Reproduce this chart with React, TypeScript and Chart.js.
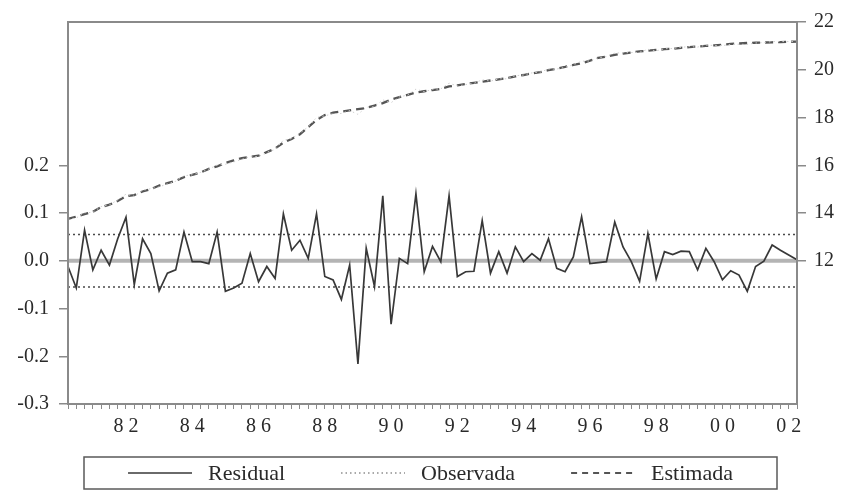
import React, { useEffect, useRef } from 'react';
import { Chart, registerables } from 'chart.js';

Chart.register(...registerables);

// ---------- data ----------
const START_YEAR = 1980;
const START_QUARTER = 4;
const N_PERIODS = 89; // 1980Q4 .. 2002Q4

const periods: string[] = [];
{
  let y = START_YEAR;
  let q = START_QUARTER;
  while (periods.length < N_PERIODS) {
    periods.push(`${y}Q${q}`);
    q += 1;
    if (q > 4) { q = 1; y += 1; }
  }
}

const residual = [
  -0.012, -0.057, 0.064, -0.019, 0.022, -0.009, 0.046, 0.091, -0.05, 0.046,
  0.015, -0.063, -0.026, -0.019, 0.06, -0.002, -0.002, -0.006, 0.06, -0.064,
  -0.057, -0.047, 0.015, -0.044, -0.012, -0.037, 0.098, 0.022, 0.043, 0.005,
  0.098, -0.033, -0.04, -0.081, -0.009, -0.216, 0.026, -0.054, 0.136, -0.133,
  0.005, -0.006, 0.14, -0.023, 0.03, -0.002, 0.136, -0.033, -0.023, -0.022,
  0.084, -0.026, 0.019, -0.026, 0.029, -0.002, 0.015, 0.001, 0.046, -0.016,
  -0.023, 0.008, 0.092, -0.006, -0.004, -0.002, 0.081, 0.029, -0.002, -0.043,
  0.057, -0.038, 0.019, 0.013, 0.02, 0.019, -0.019, 0.026, -0.002, -0.04,
  -0.021, -0.03, -0.064, -0.012, -0.001, 0.033, 0.022, 0.012, 0.002,
];

const observed = [
  13.74, 13.79, 14.01, 14.03, 14.27, 14.34, 14.55, 14.79, 14.70, 14.95,
  15.02, 15.09, 15.22, 15.33, 15.56, 15.60, 15.70, 15.84, 16.01, 16.04,
  16.14, 16.25, 16.37, 16.36, 16.54, 16.66, 17.05, 17.12, 17.34, 17.61,
  18.00, 18.07, 18.16, 18.17, 18.29, 18.13, 18.43, 18.45, 18.74, 18.62,
  18.86, 18.94, 19.19, 19.08, 19.18, 19.20, 19.44, 19.32, 19.38, 19.43,
  19.58, 19.52, 19.62, 19.62, 19.75, 19.78, 19.87, 19.90, 20.03, 20.03,
  20.10, 20.21, 20.36, 20.37, 20.50, 20.55, 20.70, 20.71, 20.72, 20.73,
  20.86, 20.79, 20.88, 20.89, 20.94, 20.97, 20.95, 21.03, 21.02, 21.01,
  21.06, 21.07, 21.06, 21.12, 21.14, 21.18, 21.18, 21.18, 21.18,
];

const fitted = [
  13.75, 13.85, 13.95, 14.05, 14.25, 14.35, 14.5, 14.7, 14.75, 14.9,
  15.0, 15.15, 15.25, 15.35, 15.5, 15.6, 15.7, 15.85, 15.95, 16.1,
  16.2, 16.3, 16.35, 16.4, 16.55, 16.7, 16.95, 17.1, 17.3, 17.6,
  17.9, 18.1, 18.2, 18.25, 18.3, 18.35, 18.4, 18.5, 18.6, 18.75,
  18.85, 18.95, 19.05, 19.1, 19.15, 19.2, 19.3, 19.35, 19.4, 19.45,
  19.5, 19.55, 19.6, 19.65, 19.72, 19.78, 19.85, 19.9, 19.98, 20.05,
  20.12, 20.2, 20.27, 20.38, 20.5, 20.55, 20.62, 20.68, 20.72, 20.77,
  20.8, 20.83, 20.86, 20.88, 20.92, 20.95, 20.97, 21.0, 21.02, 21.05,
  21.08, 21.1, 21.12, 21.13, 21.14, 21.15, 21.16, 21.17, 21.18,
];

const leftTicks = [-0.3, -0.2, -0.1, 0.0, 0.1, 0.2];
const rightTicks = [12, 14, 16, 18, 20, 22];
const SE_BAND = 0.055;
const LABEL_QUARTER = 3; // year labels are centred on mid-year

// ---------- styles ----------
const FONT_FAMILY = '"Liberation Serif", "Times New Roman", serif';
const TEXT_COLOR = '#2a2a2a';
const AXIS_COLOR = '#8a8a8a';

const xTickLabel = (i: number): string => {
  const p = periods[i];
  if (!p) return '';
  const y = parseInt(p.slice(0, 4), 10);
  const q = parseInt(p.slice(5), 10);
  if (q === LABEL_QUARTER && y % 2 === 0) return String(y).slice(2);
  return '';
};

const bandsPlugin = {
  id: 'bands',
  beforeDatasetsDraw(chart: any) {
    const { ctx, chartArea } = chart;
    const ys = chart.scales.y;
    ctx.save();
    ctx.strokeStyle = '#b4b4b4';
    ctx.lineWidth = 4;
    const y0 = ys.getPixelForValue(0);
    ctx.beginPath();
    ctx.moveTo(chartArea.left, y0);
    ctx.lineTo(chartArea.right, y0);
    ctx.stroke();
    ctx.strokeStyle = '#4a4a4a';
    ctx.lineWidth = 1.3;
    ctx.setLineDash([2, 3]);
    [SE_BAND, -SE_BAND].forEach((v) => {
      const yy = ys.getPixelForValue(v);
      ctx.beginPath();
      ctx.moveTo(chartArea.left, yy);
      ctx.lineTo(chartArea.right, yy);
      ctx.stroke();
    });
    ctx.restore();
  },
};

const framePlugin = {
  id: 'frame',
  afterDatasetsDraw(chart: any) {
    const { ctx, chartArea } = chart;
    ctx.save();
    ctx.strokeStyle = AXIS_COLOR;
    ctx.lineWidth = 2;
    ctx.strokeRect(chartArea.left, chartArea.top, chartArea.right - chartArea.left, chartArea.bottom - chartArea.top);
    ctx.restore();
  },
};

const spacedLabelsPlugin = {
  id: 'spacedLabels',
  afterLayout(chart: any) {
    const sc = chart.scales.x;
    if (sc && !sc.__patched) {
      const orig = sc.drawLabels.bind(sc);
      sc.drawLabels = (area: any) => {
        const ctx = chart.ctx;
        ctx.save();
        try { (ctx as any).letterSpacing = '5px'; } catch (e) { /* ignore */ }
        ctx.translate(2.5, 0);
        orig(area);
        ctx.restore();
      };
      sc.__patched = true;
    }
  },
};

const legendBoxPlugin = {
  id: 'legendBox',
  afterDraw(chart: any) {
    const { ctx, chartArea, height } = chart;
    const left = chartArea.left + 16;
    const right = chartArea.right - 20;
    const top = chartArea.bottom + 53;
    const bottom = height - 3;
    ctx.save();
    ctx.strokeStyle = '#5a5a5a';
    ctx.lineWidth = 1.5;
    ctx.strokeRect(left, top, right - left, bottom - top);
    const font = `22px ${FONT_FAMILY}`;
    ctx.font = font;
    const sample = 64;
    const gap = 16;
    const itemGap = 56;
    const ds = chart.data.datasets;
    const widths = ds.map((d: any) => ctx.measureText(d.label).width);
    const total = widths.reduce((a: number, w: number) => a + w + sample + gap, 0) + itemGap * (ds.length - 1);
    let x = (left + right) / 2 - total / 2;
    const cy = (top + bottom) / 2;
    ds.forEach((d: any, i: number) => {
      ctx.save();
      ctx.strokeStyle = d.legendColor || d.borderColor;
      ctx.lineWidth = d.legendWidth || d.borderWidth;
      ctx.setLineDash(d.legendDash || d.borderDash || []);
      ctx.beginPath();
      ctx.moveTo(x, cy);
      ctx.lineTo(x + sample, cy);
      ctx.stroke();
      ctx.restore();
      ctx.fillStyle = TEXT_COLOR;
      ctx.textBaseline = 'middle';
      ctx.textAlign = 'left';
      ctx.fillText(d.label, x + sample + gap, cy + 1);
      x += sample + gap + widths[i] + itemGap;
    });
    ctx.restore();
  },
};

export default function App() {
  const ref = useRef<HTMLCanvasElement | null>(null);

  useEffect(() => {
    document.body.style.margin = '0';
    const canvas = ref.current;
    if (!canvas) return;
    const tickFont = { family: FONT_FAMILY, size: 20 };
    const chart = new Chart(canvas, {
      type: 'line',
      data: {
        labels: periods,
        datasets: [
          {
            label: 'Residual',
            data: residual,
            yAxisID: 'y',
            borderColor: '#383838',
            borderWidth: 1.7,
            pointRadius: 0,
            tension: 0,
          },
          {
            label: 'Observada',
            data: observed,
            yAxisID: 'y1',
            borderColor: '#cfcfcf',
            borderWidth: 1,
            borderDash: [1.5, 3],
            pointRadius: 0,
            tension: 0,
            legendColor: '#555555',
            legendWidth: 1.2,
          } as any,
          {
            label: 'Estimada',
            data: fitted,
            yAxisID: 'y1',
            borderColor: '#555555',
            borderWidth: 2.3,
            borderDash: [8, 5],
            pointRadius: 0,
            tension: 0,
            legendWidth: 1.8,
            legendDash: [6, 5],
          } as any,
        ],
      },
      options: {
        animation: false,
        responsive: false,
        maintainAspectRatio: false,
        layout: { padding: { top: 18, bottom: 42, left: 0, right: 0 } },
        plugins: {
          legend: { display: false },
          tooltip: { enabled: false },
        },
        scales: {
          x: {
            type: 'category',
            offset: false,
            grid: { drawOnChartArea: false, drawTicks: true, tickLength: 5, color: AXIS_COLOR, lineWidth: 1 },
            border: { display: false },
            ticks: {
              autoSkip: false,
              maxRotation: 0,
              minRotation: 0,
              padding: 6,
              font: tickFont,
              color: TEXT_COLOR,
              callback: (_v: any, i: number) => xTickLabel(i),
            },
            afterFit: (s: any) => { s.height = 46; },
          },
          y: {
            position: 'left',
            min: -0.3,
            max: 0.5,
            afterBuildTicks: (s: any) => { s.ticks = leftTicks.map((v) => ({ value: v })); },
            grid: { drawOnChartArea: false, drawTicks: true, tickLength: 9, color: AXIS_COLOR, lineWidth: 1.5 },
            border: { display: false },
            ticks: {
              padding: 10,
              font: tickFont,
              color: TEXT_COLOR,
              callback: (v: any) => Number(v).toFixed(1),
            },
            afterFit: (s: any) => { s.width = 68; },
          },
          y1: {
            position: 'right',
            min: 6,
            max: 22,
            afterBuildTicks: (s: any) => { s.ticks = rightTicks.map((v) => ({ value: v })); },
            grid: { drawOnChartArea: false, drawTicks: true, tickLength: 9, color: AXIS_COLOR, lineWidth: 1.5 },
            border: { display: false },
            ticks: {
              padding: 8,
              font: tickFont,
              color: TEXT_COLOR,
              callback: (v: any) => String(v),
            },
            afterFit: (s: any) => { s.width = 44; },
          },
        },
      } as any,
      plugins: [bandsPlugin, framePlugin, spacedLabelsPlugin, legendBoxPlugin],
    });
    return () => chart.destroy();
  }, []);

  return (
    <div style={{ position: 'fixed', left: 0, top: 0, width: 841, height: 492, background: '#fff' }}>
      <canvas ref={ref} width={841} height={492} style={{ width: 841, height: 492, display: 'block' }} />
    </div>
  );
}
